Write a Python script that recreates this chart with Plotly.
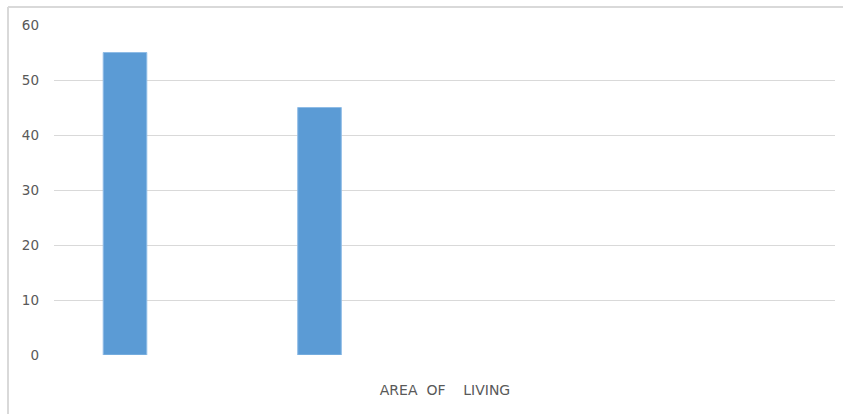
import plotly.graph_objects as go

# Share of respondents by area of living
groups = ["Urban", "Rural"]
values = [55, 45]
positions = [0, 1]
axis_label = "AREA  OF    LIVING"
y_ticks = [0, 10, 20, 30, 40, 50, 60]

fig = go.Figure()
fig.add_trace(go.Bar(
    x=positions,
    y=values,
    name="",
    text=groups,
    textposition="none",
    hoverinfo="y",
    width=0.224,
    marker=dict(color="#5b9bd5", line=dict(color="#8fbce6", width=1)),
))

fig.update_layout(
    width=843,
    height=414,
    margin=dict(l=54, r=8, t=25, b=59),
    paper_bgcolor="white",
    plot_bgcolor="white",
    showlegend=False,
    font=dict(family="DejaVu Sans", color="#595959", size=13),
    xaxis=dict(
        range=[-0.365, 3.650],
        tickvals=[1.645],
        ticktext=[axis_label],
        ticks="",
        showgrid=False,
        zeroline=False,
        showline=False,
        tickfont=dict(size=14, color="#595959"),
        ticklabelstandoff=25,
    ),
    yaxis=dict(
        range=[0, 60],
        tickvals=y_ticks,
        showgrid=True,
        gridcolor="#d9d9d9",
        gridwidth=1,
        zeroline=False,
        showline=False,
        ticks="",
        ticklabelstandoff=14,
        tickfont=dict(size=13.5, color="#595959"),
    ),
    shapes=[
        # chart frame: top and left edges
        dict(type="line", xref="paper", yref="paper",
             x0=-0.0589, x1=1.02, y0=1.0545, y1=1.0545,
             line=dict(color="#d9d9d9", width=2)),
        dict(type="line", xref="paper", yref="paper",
             x0=-0.0589, x1=-0.0589, y0=1.0545, y1=-0.2,
             line=dict(color="#d9d9d9", width=2)),
    ],
)

fig.write_html("out.html")
